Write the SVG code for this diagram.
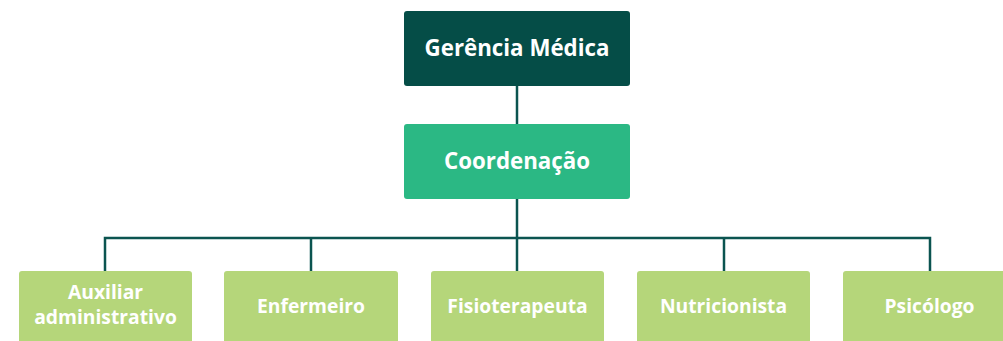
<svg xmlns="http://www.w3.org/2000/svg" width="1003" height="341" viewBox="0 0 1003 341">
<style>
.t{font-family:"Open Sans","Noto Sans",sans-serif;font-weight:bold;fill:#fff;text-anchor:middle}
.big{font-size:22.3px}
.sm{font-size:19.3px}
.ln{stroke:#0b5450;stroke-width:2.5;fill:none}
</style>
<rect width="1003" height="341" fill="#fff"/>
<g id="connectors">
<line class="ln" x1="517" y1="86" x2="517" y2="124"/>
<line class="ln" x1="517" y1="199" x2="517" y2="271"/>
<polyline class="ln" points="105,271 105,238 930,238 930,271"/>
<line class="ln" x1="311" y1="238" x2="311" y2="271"/>
<line class="ln" x1="724" y1="238" x2="724" y2="271"/>
</g>
<g id="gerencia">
<rect x="404" y="11" width="226" height="75" rx="3" fill="#054d47"/>
<text class="t big" x="517" y="56">Gerência Médica</text>
</g>
<g id="coordenacao">
<rect x="404" y="124" width="226" height="75" rx="3" fill="#2bb884"/>
<text class="t big" x="517" y="169">Coordenação</text>
</g>
<g id="auxiliar">
<rect x="19" y="271" width="173" height="80" rx="3" fill="#b5d67a"/>
<text class="t sm" x="105.5" y="299">Auxiliar</text>
<text class="t sm" x="105.5" y="324">administrativo</text>
</g>
<g id="enfermeiro">
<rect x="224" y="271" width="174" height="80" rx="3" fill="#b5d67a"/>
<text class="t sm" x="311" y="313">Enfermeiro</text>
</g>
<g id="fisioterapeuta">
<rect x="431" y="271" width="173" height="80" rx="3" fill="#b5d67a"/>
<text class="t sm" x="517.5" y="313">Fisioterapeuta</text>
</g>
<g id="nutricionista">
<rect x="637" y="271" width="173" height="80" rx="3" fill="#b5d67a"/>
<text class="t sm" x="723.5" y="313">Nutricionista</text>
</g>
<g id="psicologo">
<rect x="843" y="271" width="173" height="80" rx="3" fill="#b5d67a"/>
<text class="t sm" x="929.5" y="313">Psicólogo</text>
</g>
</svg>
